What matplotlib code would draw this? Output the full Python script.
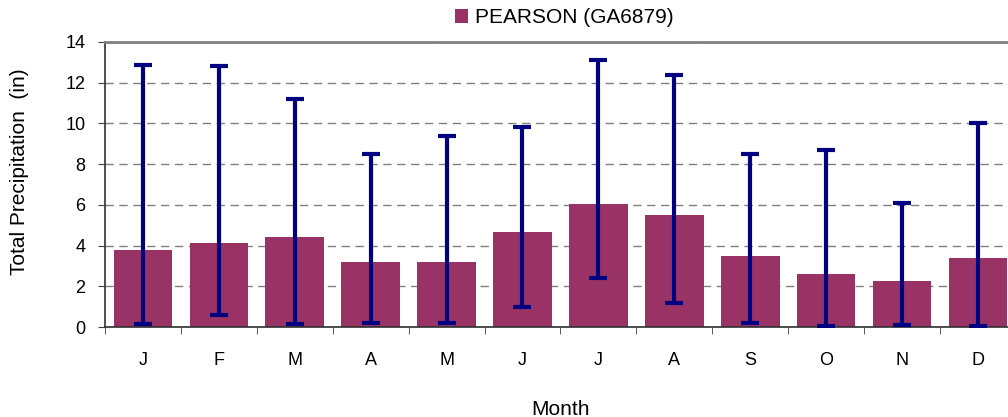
#!/usr/bin/env python

import matplotlib
matplotlib.use('Agg')

import matplotlib.pyplot as plt
import matplotlib.patches as patches
import numpy as np

plt.rcParams['font.family'] = ['Liberation Sans', 'DejaVu Sans']

months = ["J", "F", "M", "A", "M", "J", "J", "A", "S", "O", "N", "D"]
mean_precip = [3.8, 4.15, 4.4, 3.2, 3.2, 4.65, 6.05, 5.5, 3.5, 2.6, 2.27, 3.4]
max_precip = [12.85, 12.8, 11.2, 8.5, 9.37, 9.8, 13.1, 12.4, 8.5, 8.7, 6.1, 10.0]
min_precip = [0.15, 0.6, 0.15, 0.2, 0.2, 1.0, 2.43, 1.17, 0.2, 0.03, 0.1, 0.03]
station = "PEARSON (GA6879)"

fig = plt.figure(figsize=(10.08, 4.17), dpi=100)
ax = fig.add_axes([0.1042, 0.2158, 0.9036, 0.6835])

x = np.arange(len(months)) + 0.5
mean = np.array(mean_precip)
yerr = [mean - np.array(min_precip), np.array(max_precip) - mean]

ax.bar(x, mean, width=0.773, color='#993366', zorder=2)
eb = ax.errorbar(x, mean, yerr=yerr, fmt='none', ecolor='#000080',
                 elinewidth=3, capsize=6.5, capthick=3, zorder=3)
for cap in eb[1]:
    cap.set_solid_capstyle('round')

ax.set_xlim(0, 12)
ax.set_ylim(0, 14)
ax.set_yticks(range(0, 15, 2))
ax.yaxis.grid(True, linestyle=(0, (6, 4)), color='#808080', linewidth=1, zorder=1)
ax.set_axisbelow(True)

ax.set_xticks(x)
ax.set_xticklabels(months)
ax.set_xticks(np.arange(0, 13), minor=True)
ax.tick_params(axis='x', which='major', length=0, pad=18, labelsize=13)
ax.tick_params(axis='x', which='minor', length=5, direction='out', color='#404040')
ax.tick_params(axis='y', length=5, direction='out', pad=9, labelsize=13, color='#404040')

ax.spines['right'].set_visible(False)
ax.spines['top'].set_color('#808080')
ax.spines['top'].set_linewidth(2)
ax.spines['left'].set_color('#303030')
ax.spines['left'].set_linewidth(1.2)
ax.spines['bottom'].set_color('#303030')
ax.spines['bottom'].set_linewidth(1.2)

ax.set_xlabel("Month", fontsize=15, labelpad=22)
ax.set_ylabel("Total Precipitation  (in)", fontsize=15)
ax.yaxis.set_label_coords(-0.084, 0.546)

handle = patches.Patch(facecolor='#993366', edgecolor='none')
fig.legend([handle], [station], loc='center', bbox_to_anchor=(0.56, 0.957),
           frameon=False, fontsize=15, handlelength=0.6, handleheight=0.6,
           handletextpad=0.35)

plt.savefig("out.png", dpi=100)
